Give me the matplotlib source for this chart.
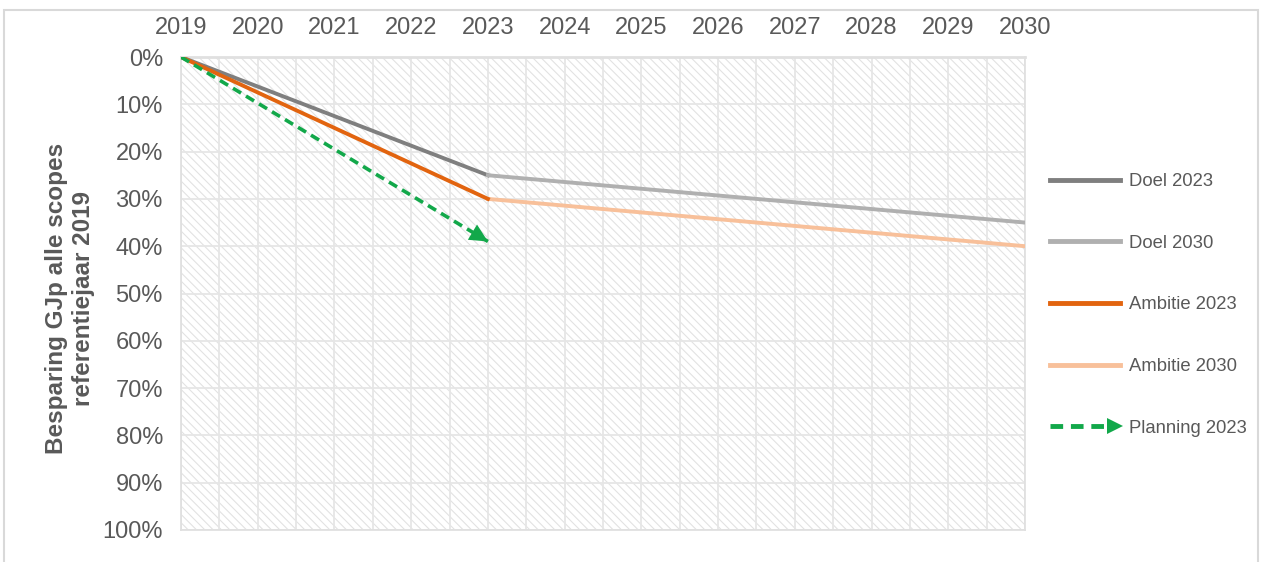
import matplotlib
matplotlib.use('Agg')
import matplotlib.pyplot as plt
from matplotlib.lines import Line2D
from matplotlib.patches import Rectangle
from matplotlib.legend_handler import HandlerBase

plt.rcParams['font.family'] = ['Liberation Sans', 'DejaVu Sans']
plt.rcParams['hatch.linewidth'] = 0.8
plt.rcParams['hatch.color'] = '#e2e2e2'

# data (percent savings vs. reference year 2019)
years = list(range(2019, 2031))
doel_2023_x = [2019, 2023]
doel_2023_y = [0, 25]
doel_2030_x = [2023, 2030]
doel_2030_y = [25, 35]
ambitie_2023_x = [2019, 2023]
ambitie_2023_y = [0, 30]
ambitie_2030_x = [2023, 2030]
ambitie_2030_y = [30, 40]
planning_x = [2019, 2023]
planning_y = [0, 39]
y_ticks = list(range(0, 101, 10))

grey_txt = '#595959'
green = '#12a84a'
dash = (0, (2.6, 1.6))


class ArrowHandler(HandlerBase):
    # dashed line with a triangle at the end, for the legend
    def create_artists(self, legend, orig_handle, xdescent, ydescent,
                       width, height, fontsize, trans):
        y = height / 2 - ydescent
        x0 = -xdescent
        x1 = width - xdescent
        line = Line2D([x0, x1 - 10], [y, y], color=green, lw=2.6,
                      linestyle=dash, dash_capstyle='butt')
        head = Line2D([x1 - 4], [y], marker='>', markersize=11,
                      color=green, markeredgewidth=0)
        line.set_transform(trans)
        head.set_transform(trans)
        return [line, head]


fig = plt.figure(figsize=(12.64, 5.62), dpi=100)
ax = fig.add_axes([181 / 1264, 1 - 530 / 562, 844 / 1264, 473 / 562])

# outer chart border
fig.patches.append(Rectangle((4 / 1264, -0.01), 1254 / 1264, 1 - 10 / 562 + 0.01,
                             transform=fig.transFigure, fill=False,
                             edgecolor='#d9d9d9', lw=1.5))

# hatched plot area
ax.add_patch(Rectangle((0, 0), 1, 1, transform=ax.transAxes, facecolor='white',
                       hatch='\\\\\\\\', edgecolor='#e2e2e2', lw=0, zorder=0.2))

ax.plot(doel_2023_x, doel_2023_y, color='#7f7f7f', lw=2.8, label='Doel 2023', zorder=3)
ax.plot(doel_2030_x, doel_2030_y, color='#b0b0b0', lw=2.8, label='Doel 2030', zorder=3)
ax.plot(ambitie_2023_x, ambitie_2023_y, color='#e2640f', lw=2.8, label='Ambitie 2023', zorder=4)
ax.plot(ambitie_2030_x, ambitie_2030_y, color='#f8c09a', lw=2.8, label='Ambitie 2030', zorder=3)

# planning: dashed line plus a filled arrow head at the end
ax.plot(planning_x, planning_y, color=green, lw=2.6, linestyle=dash,
        dash_capstyle='butt', zorder=5)
ax.annotate('', xy=(planning_x[-1], planning_y[-1]), xytext=(planning_x[0], planning_y[0]),
            arrowprops=dict(arrowstyle='-|>,head_length=0.65,head_width=0.32',
                            facecolor=green, edgecolor='none', lw=0,
                            shrinkA=0, shrinkB=0, mutation_scale=20),
            zorder=6)
planning_handle = Line2D([], [], color=green, label='Planning 2023')

ax.set_xlim(2019, 2030)
ax.set_ylim(100, 0)
ax.set_xticks(years)
ax.set_xticks([y + 0.5 for y in years[:-1]], minor=True)
ax.set_yticks(y_ticks)
ax.set_yticklabels(['%d%%' % v for v in y_ticks])
ax.xaxis.tick_top()
ax.tick_params(axis='both', which='both', length=0, labelsize=17, colors=grey_txt)
ax.tick_params(axis='x', pad=13)
ax.tick_params(axis='y', pad=13)

ax.set_axisbelow(True)
ax.grid(True, which='major', color='#e6e6e6', lw=1.3, zorder=0.5)
ax.grid(True, which='minor', axis='x', color='#e6e6e6', lw=1.3, zorder=0.5)
for s in ax.spines.values():
    s.set_color('#e0e0e0')
    s.set_linewidth(1.3)
ax.spines['top'].set_linewidth(2)

ax.set_ylabel('Besparing GJp alle scopes\nreferentiejaar 2019', fontsize=17.5,
              fontweight='bold', color=grey_txt, linespacing=1.2)
ax.yaxis.set_label_coords(-0.102, 0.49)

handles, labels = ax.get_legend_handles_labels()
handles.append(planning_handle)
labels.append('Planning 2023')
leg = ax.legend(handles, labels, loc='upper left',
                bbox_to_anchor=(1050 / 1264, 1 - 173 / 562),
                bbox_transform=fig.transFigure, frameon=False, fontsize=13.3,
                labelcolor=grey_txt, handlelength=3.8, handletextpad=0.45,
                labelspacing=2.42, borderpad=0, borderaxespad=0,
                handler_map={planning_handle: ArrowHandler()})
for h in leg.get_lines():
    h.set_linewidth(3.5)

fig.savefig('out.png', dpi=100)
